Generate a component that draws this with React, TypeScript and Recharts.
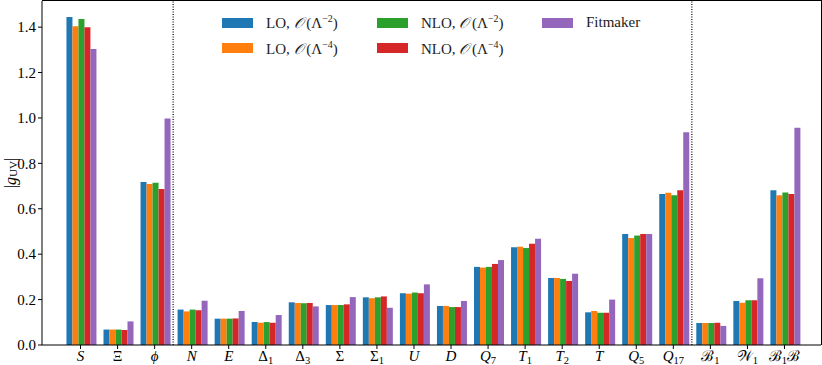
import { BarChart, Bar, XAxis, YAxis, ReferenceLine, Legend } from 'recharts';

const FONT = '"Liberation Serif", "DejaVu Serif", serif';

const categories = ['S', 'Xi', 'phi', 'N', 'E', 'Delta1', 'Delta3', 'Sigma', 'Sigma1', 'U', 'D', 'Q7', 'T1', 'T2', 'T', 'Q5', 'Q17', 'B1', 'W1', 'B1B'];

const loM2 = [1.445, 0.068, 0.718, 0.156, 0.116, 0.101, 0.188, 0.176, 0.210, 0.228, 0.172, 0.344, 0.430, 0.295, 0.144, 0.489, 0.665, 0.097, 0.194, 0.681];
const loM4 = [1.404, 0.068, 0.709, 0.148, 0.116, 0.098, 0.185, 0.176, 0.206, 0.226, 0.172, 0.341, 0.433, 0.295, 0.150, 0.471, 0.671, 0.097, 0.186, 0.659];
const nloM2 = [1.436, 0.068, 0.715, 0.156, 0.116, 0.101, 0.184, 0.176, 0.210, 0.231, 0.167, 0.344, 0.427, 0.291, 0.142, 0.482, 0.659, 0.097, 0.197, 0.672];
const nloM4 = [1.399, 0.066, 0.687, 0.153, 0.117, 0.098, 0.185, 0.179, 0.214, 0.228, 0.167, 0.357, 0.446, 0.282, 0.142, 0.489, 0.681, 0.098, 0.197, 0.665];
const fitmaker = [1.304, 0.104, 0.997, 0.195, 0.150, 0.132, 0.170, 0.211, 0.164, 0.267, 0.194, 0.374, 0.468, 0.314, 0.200, 0.489, 0.937, 0.084, 0.294, 0.957];

const yTicks = [0, 0.2, 0.4, 0.6, 0.8, 1.0, 1.2, 1.4];

// separators drawn at the right edge of these categories
const dividers = ['phi', 'Q17'];

type Seg = [string, 'it' | 'rm' | 'sub'];
const tickLabels: Record<string, Seg[]> = {
  S: [['S', 'it']],
  Xi: [['Ξ', 'rm']],
  phi: [['ϕ', 'it']],
  N: [['N', 'it']],
  E: [['E', 'it']],
  Delta1: [['Δ', 'rm'], ['1', 'sub']],
  Delta3: [['Δ', 'rm'], ['3', 'sub']],
  Sigma: [['Σ', 'rm']],
  Sigma1: [['Σ', 'rm'], ['1', 'sub']],
  U: [['U', 'it']],
  D: [['D', 'it']],
  Q7: [['Q', 'it'], ['7', 'sub']],
  T1: [['T', 'it'], ['1', 'sub']],
  T2: [['T', 'it'], ['2', 'sub']],
  T: [['T', 'it']],
  Q5: [['Q', 'it'], ['5', 'sub']],
  Q17: [['Q', 'it'], ['17', 'sub']],
  B1: [['ℬ', 'rm'], ['1', 'sub']],
  W1: [['𝒲', 'rm'], ['1', 'sub']],
  B1B: [['ℬ', 'rm'], ['1', 'sub'], ['ℬ', 'rm']],
};

const series = [
  { key: 'loM2', head: 'LO', pow: '−2', color: '#1f77b4', values: loM2 },
  { key: 'loM4', head: 'LO', pow: '−4', color: '#ff7f0e', values: loM4 },
  { key: 'nloM2', head: 'NLO', pow: '−2', color: '#2ca02c', values: nloM2 },
  { key: 'nloM4', head: 'NLO', pow: '−4', color: '#d62728', values: nloM4 },
  { key: 'fitmaker', head: 'Fitmaker', pow: '', color: '#9467bd', values: fitmaker },
];

const data = categories.map((c, i) => {
  const row: Record<string, any> = { key: c };
  series.forEach(s => { row[s.key] = s.values[i]; });
  return row;
});

function renderSegs(segs: Seg[], size: number, drop: number) {
  let low = false;
  return segs.map(([t, kind], i) => {
    let dy: number | undefined;
    if (kind === 'sub' && !low) { dy = drop; low = true; }
    else if (kind !== 'sub' && low) { dy = -drop; low = false; }
    return (
      <tspan key={i} dy={dy} fontStyle={kind === 'it' ? 'italic' : 'normal'} fontSize={kind === 'sub' ? size * 0.7 : size}>
        {t}
      </tspan>
    );
  });
}

function CategoryTick({ x, y, payload }: any) {
  const segs = tickLabels[payload.value] ?? [[String(payload.value), 'rm']];
  return (
    <text x={x} y={y} dy={10} textAnchor="middle" fontFamily={FONT} fontSize={15} fill="#000">
      {renderSegs(segs, 15, 3)}
    </text>
  );
}

function YLabel({ viewBox }: any) {
  const x = 10;
  const y = viewBox.y + viewBox.height / 2;
  return (
    <text x={x} y={y} transform={`rotate(-90, ${x}, ${y})`} textAnchor="middle" dominantBaseline="central" fontFamily={FONT} fontSize={16} fill="#000">
      {renderSegs([['|', 'rm'], ['g', 'it'], ['UV', 'sub'], ['|', 'rm']], 16, 3)}
    </text>
  );
}

function LegendBox() {
  return (
    <div
      style={{
        display: 'grid',
        gridTemplateRows: 'repeat(2, 25.5px)',
        gridTemplateColumns: '155px 165px auto',
        gridAutoFlow: 'column',
        fontFamily: FONT,
        fontSize: 15,
        color: '#222',
      }}
    >
      {series.map(s => (
        <div key={s.key} style={{ display: 'flex', alignItems: 'center', whiteSpace: 'nowrap' }}>
          <span style={{ display: 'inline-block', width: 31, height: 10, background: s.color, marginRight: 13 }} />
          {s.pow ? (
            <span>
              {s.head}, <i>𝒪</i> (Λ<sup style={{ fontSize: 10 }}>{s.pow}</sup>)
            </span>
          ) : (
            <span>{s.head}</span>
          )}
        </div>
      ))}
    </div>
  );
}

export default function App() {
  return (
    <div style={{ position: 'fixed', left: 0, top: 0, width: 822, height: 365, background: '#fff' }}>
      <BarChart
        width={822}
        height={365}
        data={data}
        margin={{ top: 1, right: 1, bottom: 0, left: 0 }}
        barCategoryGap="12%"
        barGap={0}
      >
        <XAxis
          dataKey="key"
          height={20}
          padding={{ left: 20, right: 18 }}
          interval={0}
          tick={<CategoryTick />}
          tickSize={4}
          axisLine={{ stroke: '#000' }}
          tickLine={{ stroke: '#000' }}
        />
        <YAxis
          width={42}
          domain={[0, 1.515]}
          ticks={yTicks}
          tickFormatter={(v: number) => v.toFixed(1)}
          tick={{ fontFamily: FONT, fontSize: 15, fill: '#000' }}
          tickSize={4}
          tickMargin={2}
          axisLine={{ stroke: '#000' }}
          tickLine={{ stroke: '#000' }}
          label={<YLabel />}
        />
        {series.map(s => (
          <Bar key={s.key} dataKey={s.key} fill={s.color} isAnimationActive={false} />
        ))}
        {dividers.map(d => (
          <ReferenceLine key={d} x={d} position="end" stroke="#000" strokeWidth={1.2} strokeDasharray="1 1.5" />
        ))}
        <Legend
          layout="vertical"
          align="center"
          verticalAlign="middle"
          content={<LegendBox />}
          wrapperStyle={{ top: 10, left: 222, width: 500 }}
        />
      </BarChart>
      {/* top and right spines of the axes box */}
      <div
        style={{
          position: 'absolute',
          left: 42,
          top: 0,
          width: 780,
          height: 345,
          borderTop: '1px solid #000',
          borderRight: '1px solid #000',
          boxSizing: 'border-box',
          pointerEvents: 'none',
        }}
      />
    </div>
  );
}
